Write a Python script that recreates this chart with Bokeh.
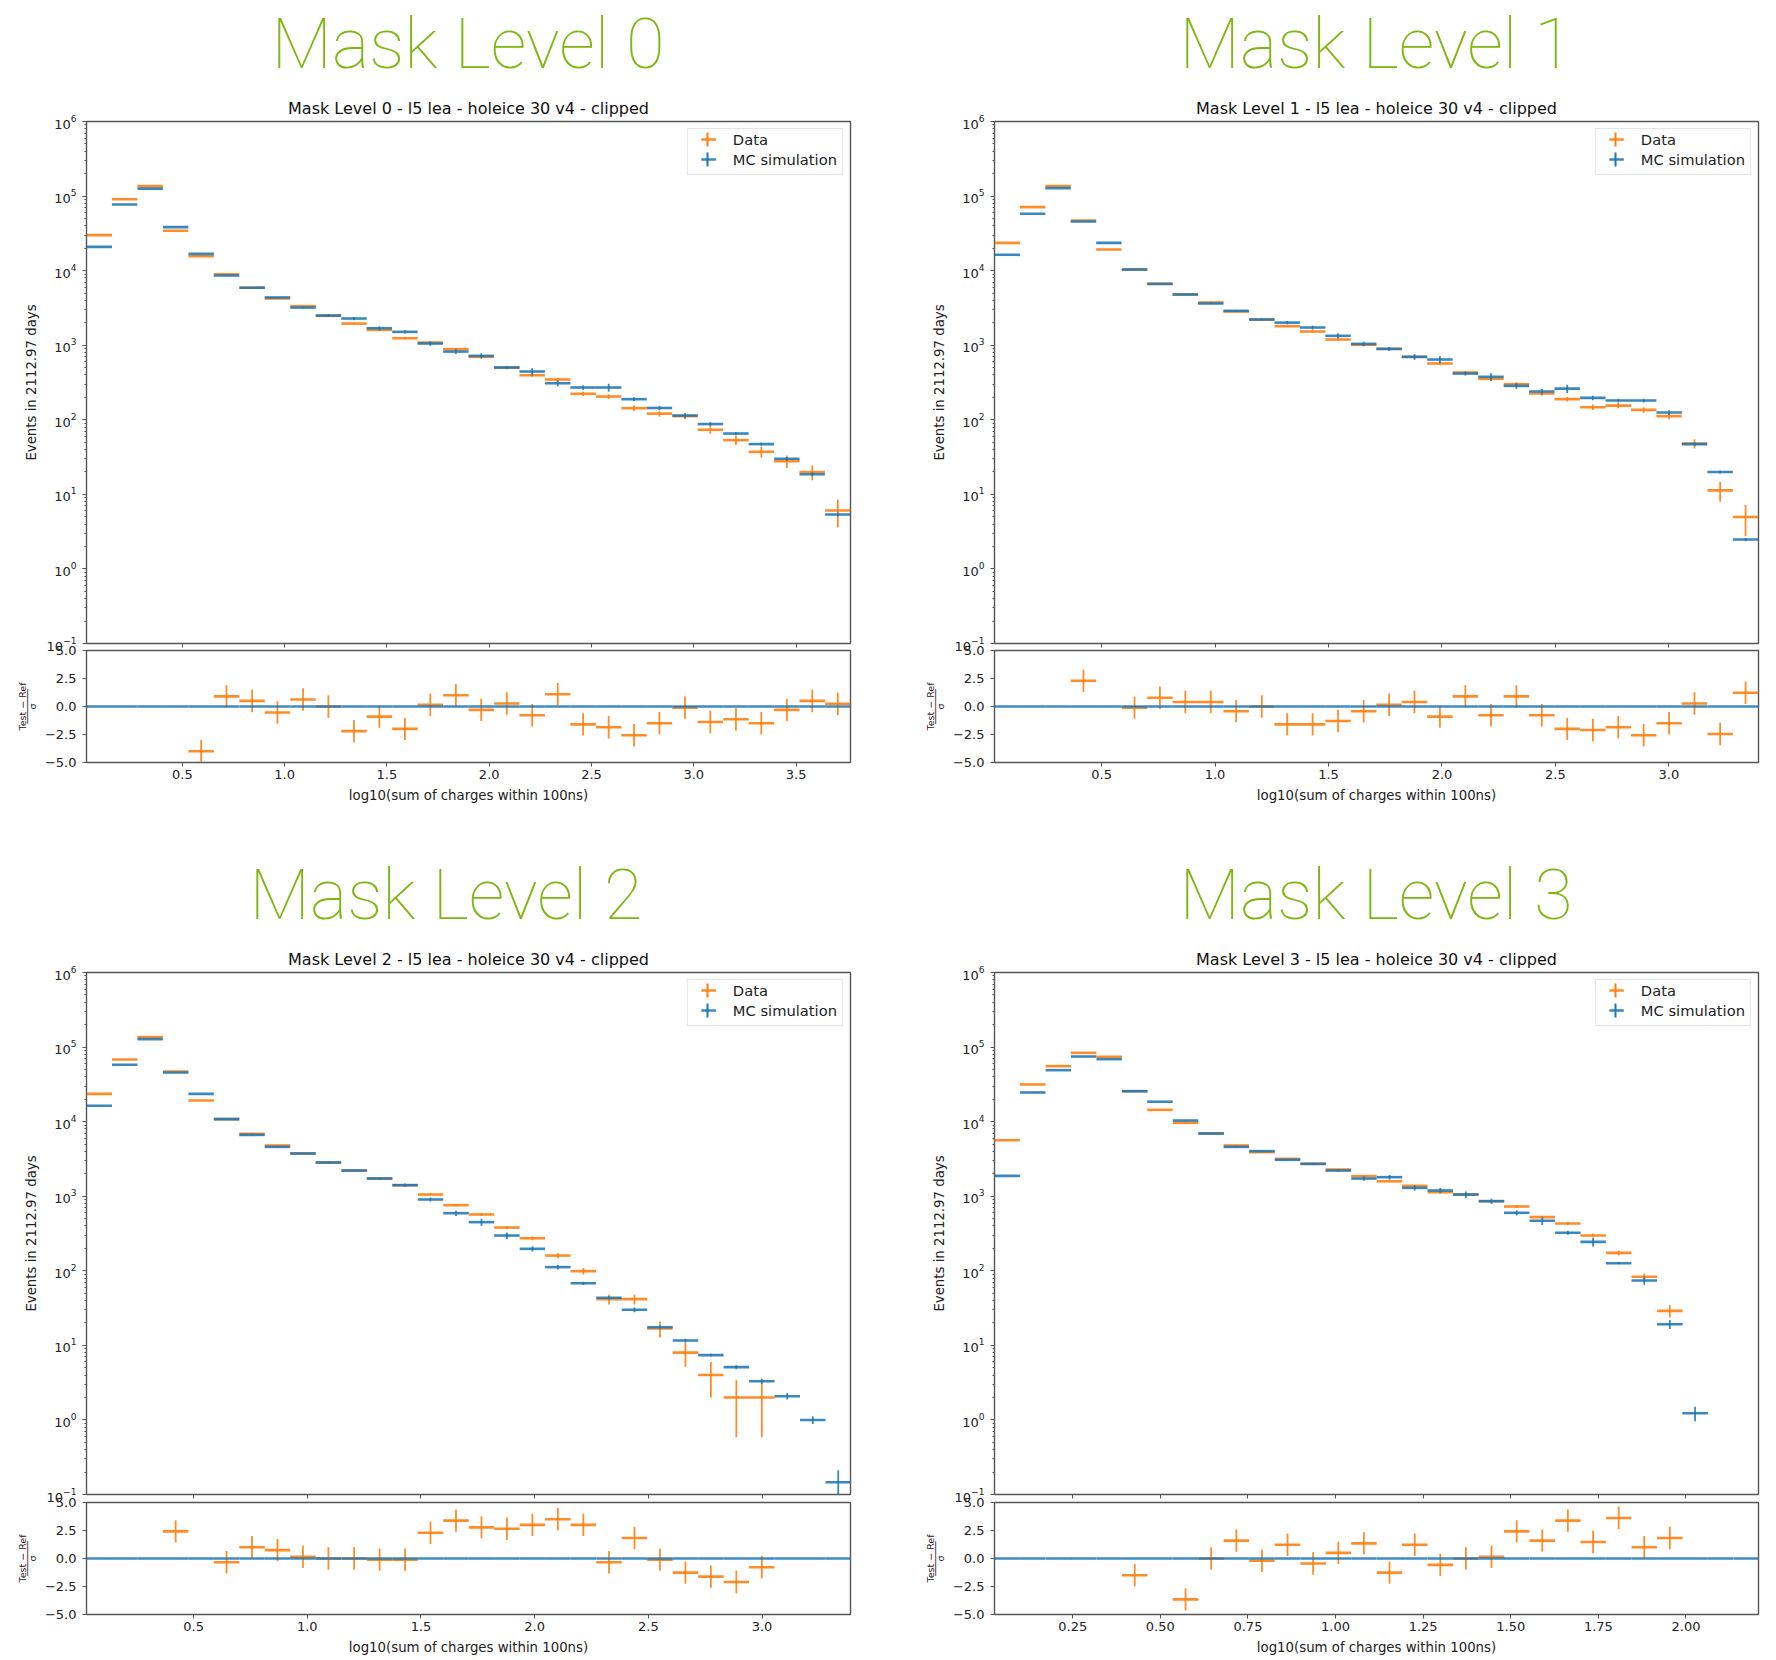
import math
from bokeh.plotting import figure
from bokeh.layouts import column, row
from bokeh.models import (FixedTicker, Legend, LegendItem, NumeralTickFormatter, BoxAnnotation, Title,
                          CustomJSTickFormatter, LogTicker)
from bokeh.embed import file_html
from bokeh.resources import INLINE

N = None
BLUE = "#1f77b4"
ORANGE = "#ff7f0e"
GREEN = "#80b512"
EDGE = "#555555"
FONT = "DejaVu Sans"

titles = ["Mask Level 0", "Mask Level 1", "Mask Level 2", "Mask Level 3"]
subtitle_suffix = " - l5 lea - holeice 30 v4 - clipped"
y_label = "Events in 2112.97 days"
x_label = "log10(sum of charges within 100ns)"
legend_labels = ["Data", "MC simulation"]
y_limits = (0.1, 1e6)
ratio_limits = (-5, 5)
ratio_ticks = [-5.0, -2.5, 0.0, 2.5, 5.0]
ratio_tick_labels = ["\u22125.0", "\u22122.5", "0.0", "2.5", "5.0"]

x_limits = [(0.0316, 3.766), (0.028, 3.395), (0.029, 3.389), (0.0268, 2.207)]
x_ticks = [
    [0.5, 1.0, 1.5, 2.0, 2.5, 3.0, 3.5],
    [0.5, 1.0, 1.5, 2.0, 2.5, 3.0],
    [0.5, 1.0, 1.5, 2.0, 2.5, 3.0],
    [0.25, 0.5, 0.75, 1.0, 1.25, 1.5, 1.75, 2.0],
]
x_formats = ["0.0", "0.0", "0.0", "0.00"]

centers_0 = [.094, .218, .343, .467, .592, .716, .841, .965, 1.09, 1.214, 1.339, 1.463, 1.588, 1.712, 1.837,
             1.961, 2.086, 2.21, 2.335, 2.459, 2.584, 2.708, 2.832, 2.957, 3.081, 3.206, 3.33, 3.455, 3.579, 3.704]
centers_1 = [.084, .196, .308, .42, .532, .645, .757, .869, .981, 1.093, 1.206, 1.318, 1.43, 1.542, 1.655,
             1.767, 1.879, 1.991, 2.103, 2.216, 2.328, 2.44, 2.552, 2.665, 2.777, 2.889, 3.001, 3.113, 3.226, 3.338]
centers_2 = [.085, .197, .309, .421, .533, .645, .757, .869, .981, 1.093, 1.206, 1.318, 1.43, 1.542, 1.654,
             1.766, 1.878, 1.99, 2.102, 2.214, 2.327, 2.439, 2.551, 2.663, 2.775, 2.887, 2.999, 3.111, 3.223, 3.335]
centers_3 = [.063, .136, .209, .281, .354, .427, .499, .572, .645, .717, .79, .863, .936, 1.008, 1.081,
             1.154, 1.226, 1.299, 1.372, 1.445, 1.517, 1.59, 1.663, 1.735, 1.808, 1.881, 1.954, 2.026, 2.099, 2.172]
bin_half_widths = [0.0622, 0.0561, 0.056, 0.03635]

data_0 = [29900, 90800, 136000, 34200, 15600, 8900, 5900, 4230, 3340, 2480, 1950, 1607, 1240, 1087, 885,
          698, 502, 396, 347, 223, 205, 143, 121, 112, 73.5, 53.3, 37.2, 27.9, 19.9, 6.07]
mc_0 = [20850, 77000, 126000, 38300, 16800, 8600, 5900, 4370, 3200, 2500, 2280, 1690, 1510, 1054, 822,
        720, 502, 444, 309, 271, 271, 189, 144, 114, 87.6, 65.4, 47.2, 30, 18.6, 5.36]
mc_err_frac_0 = [.004, .004, .004, .006, .008, .01, .012, .015, .02, .04, .05, .06, .05, .07, .07,
                 .08, .05, .11, .09, .07, .12, .06, .06, .07, .06, .05, .05, .06, .06, .06]
ratio_0 = [N, N, N, N, -4.0, 0.9, 0.5, -0.54, 0.63, 0.0, -2.2, -0.9, -2.0, 0.15, 1.0,
           -0.3, 0.27, -0.78, 1.1, -1.6, -1.85, -2.57, -1.5, -0.1, -1.38, -1.14, -1.5, -0.3, 0.5, 0.25]

data_1 = [23600, 71000, 136000, 47000, 19200, 10350, 6650, 4790, 3740, 2830, 2210, 1800, 1527, 1192, 1012,
          893, 698, 569, 431, 354, 300, 225, 189, 147.6, 155, 136, 112, 48, 11.3, 4.96]
mc_1 = [16300, 57800, 127700, 45600, 23600, 10350, 6650, 4790, 3630, 2890, 2210, 2010, 1727, 1336, 1042,
        893, 698, 643, 417, 377, 285, 239, 262, 197, 181, 181, 125, 47.2, 19.9, 2.48]
mc_err_frac_1 = [.004, .004, .004, .005, .006, .008, .01, .012, .02, .025, .03, .05, .06, .08, .07,
                 .06, .09, .11, .06, .12, .09, .08, .13, .07, .06, .06, .07, .06, .04, .05]
ratio_1 = [N, N, N, 2.3, N, -0.1, 0.78, 0.4, 0.4, -0.42, 0.0, -1.6, -1.6, -1.3, -0.42,
           0.15, 0.4, -0.9, 0.9, -0.78, 0.9, -0.78, -2.0, -2.1, -1.85, -2.57, -1.5, 0.27, -2.45, 1.23]

data_2 = [23600, 68000, 136000, 47000, 19200, 10800, 6860, 4790, 3740, 2830, 2210, 1727, 1406, 1054, 759,
          569, 380, 273, 160, 99, 41.7, 41.7, 16.8, 8.0, 4.0, 2.0, 2.0, N, N, N]
mc_2 = [16300, 57800, 127700, 45600, 23600, 10800, 6650, 4590, 3740, 2830, 2210, 1727, 1406, 904, 592,
        449, 297, 197, 112, 68, 43.4, 30, 17.5, 11.6, 7.4, 5.1, 3.3, 2.08, 1.0, 0.146]
mc_err_frac_2 = [.004, .004, .004, .005, .006, .008, .01, .012, .015, .03, .02, .04, .05, .06, .08,
                 .11, .1, .08, .07, .05, .05, .07, .06, .06, .04, .06, .08, .1, .12, .45]
ratio_2 = [N, N, N, 2.42, N, -0.33, 1.0, 0.75, 0.15, 0.0, 0.0, -0.1, -0.1, 2.3, 3.38,
           2.78, 2.66, 3.0, 3.5, 3.0, -0.33, 1.83, -0.1, -1.26, -1.62, -2.1, -0.78, N, N, N]

data_3 = [5640, 31500, 55500, 83700, 74000, 25600, 14400, 9640, 6940, 4790, 3900, 3170, 2717, 2280, 1857,
          1585, 1377, 1132, 1054, 858, 728, 524, 431, 297, 174, 83, 29, N, N, N]
mc_3 = [1875, 24600, 49000, 74700, 68800, 25600, 18500, 10350, 6940, 4590, 4020, 3077, 2717, 2210, 1727,
        1800, 1294, 1193, 1054, 858, 599, 468, 323, 244, 126, 74, 19.2, 1.23, N, N]
mc_err_frac_3 = [.006, .004, .004, .004, .004, .005, .006, .008, .01, .012, .015, .02, .025, .03, .07,
                 .07, .08, .08, .1, .08, .08, .12, .06, .13, .03, .12, .14, .22, N, N]
ratio_3 = [N, N, N, N, N, -1.5, N, -3.65, 0.0, 1.6, -0.2, 1.23, -0.45, 0.5, 1.35,
           -1.26, 1.23, -0.57, 0.0, 0.15, 2.42, 1.6, 3.38, 1.47, 3.62, 1.0, 1.83, N, N, N]

all_centers = [centers_0, centers_1, centers_2, centers_3]
all_data = [data_0, data_1, data_2, data_3]
all_mc = [mc_0, mc_1, mc_2, mc_3]
all_frac = [mc_err_frac_0, mc_err_frac_1, mc_err_frac_2, mc_err_frac_3]
all_ratio = [ratio_0, ratio_1, ratio_2, ratio_3]

# layout numbers (px); the page origin is at 0,0
heading_left = [185, 185, 163, 185]
heading_standoff = [16, 16, 15, 15]
CW = 888
L = [86, 106, 86, 106]
FW = 764
TOP_MAIN = [130, 130, 152, 152]
MAIN_SHIFT = [-9, -9, 0, 0]
BOT_MAIN = 20
FH = 522
OVER = [23, 23, 22, 22]
RATIO_TOP = 10
RATIO_FH = 112
RATIO_BOT = [58, 58, 46, 46]
TICK_PX = "13px"
LABEL_PX = "13.3px"


def style_axis(ax):
    ax.axis_line_color = None
    ax.major_tick_line_color = EDGE
    ax.minor_tick_line_color = EDGE
    ax.major_tick_line_width = 1
    ax.minor_tick_line_width = 1
    ax.major_tick_in = 0
    ax.major_tick_out = 4
    ax.minor_tick_in = 0
    ax.minor_tick_out = 2
    ax.major_label_text_font = FONT
    ax.major_label_text_font_size = TICK_PX
    ax.major_label_text_color = "#222222"
    ax.major_label_standoff = 3
    ax.axis_label_text_font = FONT
    ax.axis_label_text_font_style = "normal"
    ax.axis_label_text_font_size = LABEL_PX
    ax.axis_label_text_color = "#222222"


def base_fig(w, h, xr, yr, left, right, top, bottom, **kw):
    p = figure(width=w, height=h, x_range=xr, y_range=yr, output_backend="svg", toolbar_location=None,
               min_border_left=left, min_border_right=right, min_border_top=top, min_border_bottom=bottom, **kw)
    p.grid.visible = False
    p.outline_line_color = EDGE
    p.outline_line_width = 1.4
    p.border_fill_color = None
    p.background_fill_color = None
    style_axis(p.xaxis[0])
    style_axis(p.yaxis[0])
    p.yaxis[0].major_label_standoff = 6
    return p


def cross(p, xs, ys, hw, errs, color, alpha, floor=None, hwidth=2.6, vwidth=1.8):
    pts = [(x, y, e) for x, y, e in zip(xs, ys, errs) if y is not None]
    xx = [a[0] for a in pts]
    yy = [a[1] for a in pts]
    ee = [a[2] for a in pts]
    h = p.segment(x0=[x - hw for x in xx], x1=[x + hw for x in xx], y0=yy, y1=yy,
                  line_color=color, line_width=hwidth, line_alpha=alpha, line_cap="butt")
    lows = [y - e if floor is None else max(y - e, floor) for y, e in zip(yy, ee)]
    highs = [y + e for y, e in zip(yy, ee)]
    p.segment(x0=xx, x1=xx, y0=lows, y1=highs,
              line_color=color, line_width=vwidth, line_alpha=alpha, line_cap="butt")
    return h


columns = []
for i in range(4):
    xs = all_centers[i]
    hw = bin_half_widths[i]
    data = all_data[i]
    mc = all_mc[i]
    main_h = TOP_MAIN[i] + FH + BOT_MAIN
    p = base_fig(CW, main_h, x_limits[i], y_limits, L[i], CW - L[i] - FW, TOP_MAIN[i], BOT_MAIN,
                 y_axis_type="log", margin=(MAIN_SHIFT[i], 0, 0, 0))
    p.title.text = titles[i]
    p.title.text_font = "Roboto Thin"
    p.title.text_font_style = "normal"
    p.title.text_font_size = "70.5px"
    p.title.text_color = GREEN
    p.title.align = "left"
    p.title.offset = heading_left[i]
    p.title.standoff = heading_standoff[i]
    p.add_layout(Title(text=titles[i] + subtitle_suffix, text_font=FONT, text_font_style="normal",
                       text_font_size="16px", text_color="#111111", align="center", standoff=8), "above")
    p.yaxis[0].ticker = LogTicker(num_minor_ticks=10)
    p.yaxis[0].axis_label = y_label
    p.yaxis[0].axis_label_standoff = 5
    p.xaxis[0].ticker = FixedTicker(ticks=x_ticks[i])
    p.xaxis[0].formatter = CustomJSTickFormatter(code="return ''")

    data_err = [math.sqrt(v) if v is not None else None for v in data]
    mc_err = [v * f if v is not None else None for v, f in zip(mc, all_frac[i])]
    key_d = cross(p, xs, data, hw, data_err, ORANGE, 0.9, floor=1e-3)
    key_m = cross(p, xs, mc, hw, mc_err, BLUE, 0.88, floor=1e-3)

    legend = Legend(items=[LegendItem(label=legend_labels[0], renderers=[key_d]),
                           LegendItem(label=legend_labels[1], renderers=[key_m])],
                    location="top_right", margin=7, padding=(13, 5, 0, 5), spacing=0,
                    glyph_width=15, glyph_height=20, label_standoff=17,
                    label_text_font=FONT, label_text_font_size="14.7px", label_text_color="#222222",
                    border_line_color="#cccccc", border_line_width=1.2, background_fill_alpha=0)
    p.add_layout(legend)
    for col, t, b in [(ORANGE, 11, 25), (BLUE, 31, 45)]:
        p.add_layout(BoxAnnotation(left=FW - 144, right=FW - 142, top=FH - t, bottom=FH - b, level="overlay",
                                   left_units="screen", right_units="screen", top_units="screen", bottom_units="screen",
                                   fill_color=col, fill_alpha=1, line_color=None))

    r_h = RATIO_TOP + RATIO_FH + RATIO_BOT[i]
    r = base_fig(CW, r_h, x_limits[i], ratio_limits, L[i], CW - L[i] - FW, RATIO_TOP, RATIO_BOT[i],
                 margin=(-OVER[i], 0, 0, 0))
    r.xaxis[0].ticker = FixedTicker(ticks=x_ticks[i])
    r.xaxis[0].formatter = NumeralTickFormatter(format=x_formats[i])
    r.xaxis[0].axis_label = x_label
    r.xaxis[0].axis_label_standoff = 6
    r.yaxis[0].ticker = FixedTicker(ticks=ratio_ticks)
    r.yaxis[0].major_label_overrides = dict(zip(ratio_ticks, ratio_tick_labels))
    r.yaxis[0].axis_label = "Test \u2212 Ref\n\u2500\u2500\u2500\u2500\u2500\u2500\n\u03c3"
    r.yaxis[0].axis_label_text_font_size = "9.5px"
    r.yaxis[0].axis_label_text_line_height = 0.45
    r.yaxis[0].axis_label_standoff = 4
    ratio_errs = [1.0 if v is not None else None for v in all_ratio[i]]
    cross(r, xs, all_ratio[i], hw, ratio_errs, ORANGE, 0.9)
    r.segment(x0=[x - hw for x in xs], x1=[x + hw for x in xs], y0=[0.0] * len(xs), y1=[0.0] * len(xs),
              line_color=BLUE, line_width=2.5, line_alpha=0.85, line_cap="butt")
    columns.append(column(p, r, spacing=0))

page = column(row(columns[0], columns[1], spacing=0), row(columns[2], columns[3], spacing=0), spacing=0)
open("out.html", "w").write(file_html(page, INLINE))
